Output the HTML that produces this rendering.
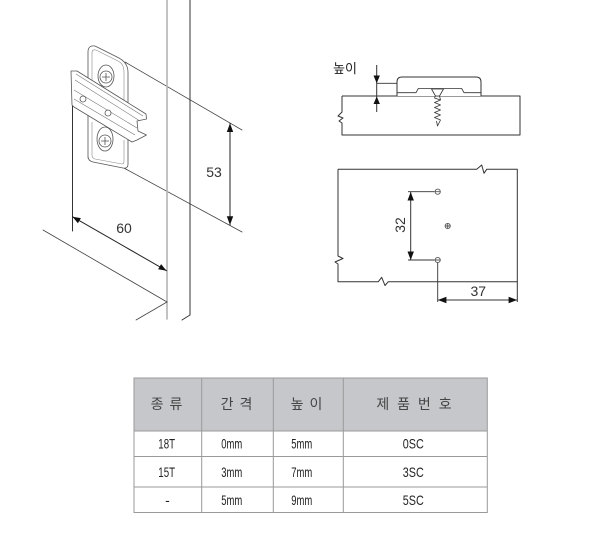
<!DOCTYPE html>
<html><head><meta charset="utf-8"><style>
html,body{margin:0;padding:0;background:#fff;}
svg{display:block;}
text{font-family:"Liberation Sans","Noto Sans CJK KR",sans-serif;}
</style></head><body>
<svg width="600" height="547" viewBox="0 0 600 547" xmlns="http://www.w3.org/2000/svg">
<rect width="600" height="547" fill="#fff"/>

<!-- LEFT DRAWING -->
<g fill="none" stroke-linecap="round">
  <!-- extension lines for 53 (behind) -->
  <line x1="125" y1="62" x2="242" y2="130" stroke="#444" stroke-width="0.8"/>
  <line x1="122" y1="167" x2="242" y2="232" stroke="#444" stroke-width="0.8"/>
  <!-- panel lines -->
  <line x1="167" y1="0" x2="167" y2="319" stroke="#b4b4b4" stroke-width="1.6"/>
  <line x1="190" y1="0" x2="190" y2="315" stroke="#333" stroke-width="1"/>
  <line x1="190" y1="315" x2="182" y2="320" stroke="#333" stroke-width="1"/>
  <line x1="43" y1="230" x2="167" y2="302" stroke="#444" stroke-width="0.8"/>
  <line x1="167" y1="302" x2="136" y2="320" stroke="#444" stroke-width="0.8"/>
  <!-- 60 extension -->
  <line x1="72.5" y1="106" x2="72.5" y2="231" stroke="#333" stroke-width="1"/>
  <!-- 60 dim line -->
  <line x1="72.5" y1="216.7" x2="166.5" y2="270.7" stroke="#222" stroke-width="1"/>
  <!-- 53 dim line -->
  <line x1="230" y1="123.3" x2="230" y2="225" stroke="#222" stroke-width="1"/>
</g>
<g fill="#111">
  <path d="M72.5,216.7 L77.9,223.3 L80.9,218.1 Z"/>
  <path d="M166.5,270.7 L158.1,269.3 L161.1,264.1 Z"/>
  <path d="M230,123.3 L226.8,132 L233.2,132 Z"/>
  <path d="M230,225 L226.8,216.3 L233.2,216.3 Z"/>
</g>
<text x="124" y="233" font-size="14" fill="#333" text-anchor="middle">60</text>
<text x="214" y="177" font-size="14" fill="#333" text-anchor="middle">53</text>

<!-- hinge plate -->
<g stroke="#555" stroke-width="0.8" fill="#fff" stroke-linejoin="round">
  <!-- back plate -->
  <path d="M88,158 V52 Q88,45 95,46 L119,58 Q128,63 128,72 V164 Q128,169 123,168 L93,162 Q88,161 88,156 Z"/>
  <path d="M92,100 V53 Q92,49 96,50 L118,61 Q124,64 124,72 V100" fill="none" stroke="#888" stroke-width="0.6"/>
  <path d="M92,122 V155 Q92,158 95,159 L122,164 Q124,164 124,161 V140" fill="none" stroke="#888" stroke-width="0.6"/>
  <!-- upper screw -->
  <ellipse cx="106" cy="76" rx="8" ry="11"/>
  <circle cx="106" cy="77" r="6"/>
  <path d="M102,77 H110 M106,73 V81" fill="none"/>
  <!-- lower screw -->
  <ellipse cx="105" cy="139" rx="8" ry="12"/>
  <circle cx="105" cy="141" r="6"/>
  <path d="M101,141 H109 M105,137 V145" fill="none"/>
  <!-- rail -->
  <path d="M71,71 L77,71 L146,114 L146.5,119 L137,121 L138,131 L146.5,135 L137,140 L132,142 L74,107 L72,105 Z"/>
  <path d="M76,74 L143,116 M75,80 L140,121 M74,90 L137,128 M74,99 L135,135" fill="none" stroke="#777" stroke-width="0.6"/>
  <circle cx="83" cy="99" r="3"/>
  <circle cx="108" cy="113" r="3"/>
</g>

<!-- TOP RIGHT: side view -->
<g fill="none" stroke="#333" stroke-width="1" stroke-linejoin="round">
  <path d="M342,96 H520 V135 H342 V123 L339,121 L343,118 L338,116 L342,112 V96"/>
  <!-- plate -->
  <path d="M397,96 V82 Q397,77 402,77 H476 Q481,77 481,82 V96" fill="#fff"/>
  <path d="M397,92.7 H416 L418.3,88.5 H461.7 L464,92.7 H481" stroke-width="0.8"/>
  <!-- dimension -->
  <line x1="376.7" y1="65" x2="376.7" y2="112"/>
  <line x1="376.7" y1="83.3" x2="397" y2="83.3" stroke-width="0.8"/>
</g>
<g fill="#111">
  <path d="M376.7,83.3 L373.5,75.5 L379.9,75.5 Z"/>
  <path d="M376.7,96.5 L373.5,104 L379.9,104 Z"/>
</g>
<!-- screw -->
<g fill="#fff" stroke="#333" stroke-width="0.8" stroke-linejoin="round">
  <path d="M431.5,89 H443.5 L439.5,96 H435.5 Z"/>
  <polyline fill="none" points="435.5,96 434.5,98 440.5,100 434.5,102.5 440.5,105 434.5,107.5 440.5,110 434.5,112.5 440.5,115 434.5,117.5 440.5,120 437.5,126 436.5,121"/>
  <line x1="439.5" y1="96" x2="440.5" y2="100"/>
</g>
<text x="333" y="73" font-size="13" fill="#222">높이</text>

<!-- BOTTOM RIGHT: front view -->
<g fill="none" stroke="#333" stroke-width="1" stroke-linejoin="round">
  <path d="M338,169.3 H476.7 L481.7,165 L484,173.3 L486.7,169.3 H517.3 V302"/>
  <path d="M338,169.3 V256 L343,258.5 L335,262 L338,264 V281.7 H378.3 L381.7,277.3 L385,285.5 L388.3,281.7 H517.3"/>
  <!-- 32 dim -->
  <line x1="408" y1="191.7" x2="434.5" y2="191.7" stroke-width="0.9"/>
  <line x1="408" y1="260" x2="434.5" y2="260" stroke-width="0.9"/>
  <line x1="410.7" y1="192" x2="410.7" y2="260"/>
  <!-- 37 dim -->
  <line x1="437.7" y1="263" x2="437.7" y2="302" stroke-width="0.9"/>
  <line x1="437.7" y1="300" x2="517.3" y2="300"/>
</g>
<g fill="#fff" stroke="#555" stroke-width="0.9">
  <circle cx="437.7" cy="191.7" r="2.6"/>
  <circle cx="447.7" cy="226" r="2.6"/>
  <circle cx="437.7" cy="260" r="2.6"/>
  <path d="M435.1,191.7 H440.3 M445.1,226 H450.3 M447.7,223.4 V228.6 M435.1,260 H440.3" fill="none"/>
</g>
<g fill="#111">
  <path d="M410.7,192 L407.5,200.5 L413.9,200.5 Z"/>
  <path d="M410.7,260 L407.5,251.5 L413.9,251.5 Z"/>
  <path d="M437.9,300 L446.4,296.8 L446.4,303.2 Z"/>
  <path d="M517.1,300 L508.6,296.8 L508.6,303.2 Z"/>
</g>
<text x="0" y="0" font-size="14" fill="#333" text-anchor="middle" transform="translate(405,225) rotate(-90)">32</text>
<text x="478.3" y="296" font-size="14" fill="#333" text-anchor="middle">37</text>

<!-- TABLE -->
<rect x="134" y="378" width="353.3" height="53" fill="#c5c7cb"/>
<g fill="none" stroke="#9a9a9a" stroke-width="1">
  <rect x="134" y="378" width="353.3" height="134.5"/>
  <line x1="134" y1="431" x2="487.3" y2="431"/>
  <line x1="134" y1="456.5" x2="487.3" y2="456.5"/>
  <line x1="134" y1="487" x2="487.3" y2="487"/>
  <line x1="201.7" y1="378" x2="201.7" y2="512.5"/>
  <line x1="273.3" y1="378" x2="273.3" y2="512.5"/>
  <line x1="343.3" y1="378" x2="343.3" y2="512.5"/>
</g>
<g font-size="14" fill="#444" text-anchor="middle">
  <text x="167" y="409" letter-spacing="1">종 류</text>
  <text x="237" y="409" letter-spacing="1">간 격</text>
  <text x="307" y="409" letter-spacing="1">높 이</text>
  <text x="415" y="409" letter-spacing="2">제 품 번 호</text>
</g>
<g font-size="14" fill="#222">
  <text x="158.3" y="448.5" textLength="16.7" lengthAdjust="spacingAndGlyphs">18T</text>
  <text x="221.2" y="448.5" textLength="21" lengthAdjust="spacingAndGlyphs">0mm</text>
  <text x="291.2" y="448.5" textLength="21" lengthAdjust="spacingAndGlyphs">5mm</text>
  <text x="402.8" y="448.5" textLength="21" lengthAdjust="spacingAndGlyphs">0SC</text>

  <text x="158.3" y="476.8" textLength="16.7" lengthAdjust="spacingAndGlyphs">15T</text>
  <text x="221.2" y="476.8" textLength="21" lengthAdjust="spacingAndGlyphs">3mm</text>
  <text x="291.2" y="476.8" textLength="21" lengthAdjust="spacingAndGlyphs">7mm</text>
  <text x="402.8" y="476.8" textLength="21" lengthAdjust="spacingAndGlyphs">3SC</text>

  <text x="167.5" y="505" text-anchor="middle">-</text>
  <text x="221.2" y="505" textLength="21" lengthAdjust="spacingAndGlyphs">5mm</text>
  <text x="291.2" y="505" textLength="21" lengthAdjust="spacingAndGlyphs">9mm</text>
  <text x="402.8" y="505" textLength="21" lengthAdjust="spacingAndGlyphs">5SC</text>
</g>
</svg>
</body></html>
